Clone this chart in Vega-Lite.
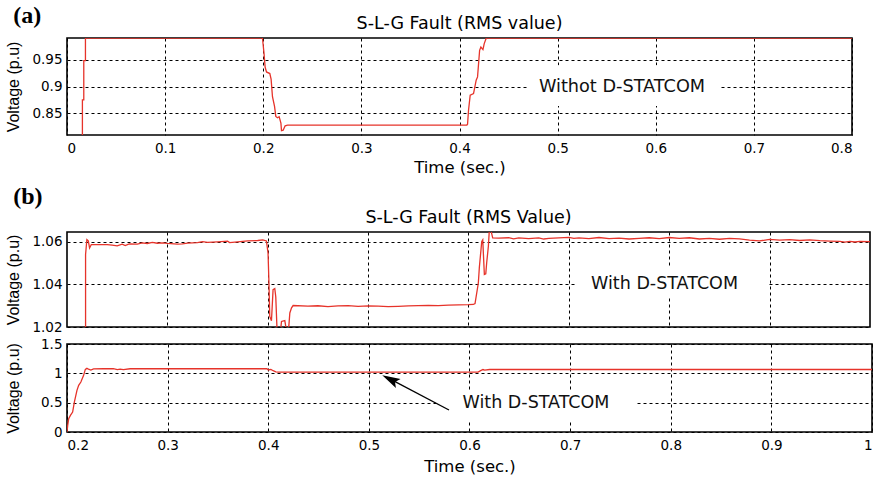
{
  "$schema": "https://vega.github.io/schema/vega-lite/v6.json",
  "background": "white",
  "padding": {"left": 4, "top": 3, "right": 2, "bottom": 2},
  "config": {
    "view": {"stroke": "black", "strokeWidth": 1.6},
    "axis": {
      "grid": true, "gridColor": "black", "gridDash": [3, 3], "gridWidth": 1, "gridOpacity": 1,
      "domain": false, "ticks": false, "tickSize": 0,
      "labelFont": "DejaVu Sans", "labelFontSize": 13.5, "labelColor": "black",
      "titleFont": "Liberation Sans", "titleFontSize": 16, "titleFontWeight": "normal", "titleColor": "black"
    },
    "axisX": {"titleFont": "DejaVu Sans", "titleFontSize": 16.5},
    "title": {"font": "DejaVu Sans", "fontSize": 17.5, "fontWeight": "normal", "color": "black"}
  },
  "concat": [
    {
      "title": {"text": "(a)", "anchor": "start", "frame": "bounds", "font": "Liberation Serif", "fontWeight": "bold", "fontSize": 24, "offset": -14, "dx": 9},
      "concat": [
        {
          "width": 785, "height": 97,
          "title": {"text": "S-L-G Fault (RMS value)", "frame": "group", "anchor": "middle", "offset": 6},
          "encoding": {
            "x": {"field": "t", "type": "quantitative", "scale": {"domain": [0, 0.8], "nice": false},
                  "axis": {"title": "Time (sec.)", "values": [0, 0.1, 0.2, 0.3, 0.4, 0.5, 0.6, 0.7, 0.8], "format": "~g", "labelPadding": 6, "titlePadding": 5}},
            "y": {"field": "v", "type": "quantitative", "scale": {"domain": [0.81, 0.99], "nice": false, "zero": false},
                  "axis": {"title": "Voltage (p.u)", "values": [0.85, 0.9, 0.95], "format": "~g", "labelPadding": 5, "minExtent": 35, "maxExtent": 35, "titlePadding": 11}}
          },
          "layer": [
            {
              "data": {"values": [
                {"t": 0.0157, "v": 0.80}, {"t": 0.0157, "v": 0.875}, {"t": 0.0171, "v": 0.875}, {"t": 0.0171, "v": 0.948},
                {"t": 0.0188, "v": 0.948}, {"t": 0.0188, "v": 0.99}, {"t": 0.1992, "v": 0.99}, {"t": 0.2008, "v": 0.961},
                {"t": 0.2019, "v": 0.936}, {"t": 0.2033, "v": 0.927}, {"t": 0.2067, "v": 0.924}, {"t": 0.208, "v": 0.9137},
                {"t": 0.2094, "v": 0.881}, {"t": 0.2115, "v": 0.863}, {"t": 0.2128, "v": 0.8445}, {"t": 0.2145, "v": 0.842},
                {"t": 0.2162, "v": 0.844}, {"t": 0.218, "v": 0.832}, {"t": 0.2186, "v": 0.818}, {"t": 0.2203, "v": 0.819},
                {"t": 0.2223, "v": 0.827}, {"t": 0.2248, "v": 0.8285}, {"t": 0.4075, "v": 0.8285}, {"t": 0.4082, "v": 0.83},
                {"t": 0.4092, "v": 0.856}, {"t": 0.4109, "v": 0.8839}, {"t": 0.4143, "v": 0.887}, {"t": 0.417, "v": 0.9117},
                {"t": 0.4184, "v": 0.9178}, {"t": 0.4205, "v": 0.9672}, {"t": 0.4218, "v": 0.9733}, {"t": 0.4239, "v": 0.9685},
                {"t": 0.4252, "v": 0.9796}, {"t": 0.4273, "v": 0.99}, {"t": 0.8, "v": 0.99}
              ]},
              "mark": {"type": "line", "color": "#e6332a", "strokeWidth": 1.3, "clip": true}
            },
            {
              "data": {"values": [{"t": 0.4688, "t2": 0.6665, "v": 0.864, "v2": 0.9395}]},
              "mark": {"type": "rect", "fill": "white"},
              "encoding": {"x2": {"field": "t2"}, "y2": {"field": "v2"}}
            },
            {
              "data": {"values": [{"t": 0.5656, "v": 0.9, "label": "Withot D-STATCOM"}]},
              "mark": {"type": "text", "font": "DejaVu Sans", "fontSize": 17.7, "color": "#111", "baseline": "middle", "align": "center"},
              "encoding": {"text": {"field": "label"}}
            }
          ]
        }
      ],
      "columns": 1, "align": "none"
    },
    {
      "title": {"text": "(b)", "anchor": "start", "frame": "bounds", "font": "Liberation Serif", "fontWeight": "bold", "fontSize": 24, "offset": -1.5, "dx": 9},
      "concat": [
        {
          "width": 803, "height": 95,
          "title": {"text": "S-L-G Fault (RMS Value)", "frame": "group", "anchor": "middle", "offset": 6},
          "encoding": {
            "x": {"field": "t", "type": "quantitative", "scale": {"domain": [0.2, 1.0], "nice": false},
                  "axis": {"title": null, "labels": false, "values": [0.3, 0.4, 0.5, 0.6, 0.7, 0.8, 0.9]}},
            "y": {"field": "v", "type": "quantitative", "scale": {"domain": [1.02, 1.0647], "nice": false, "zero": false},
                  "axis": {"title": "Voltage (p.u)", "values": [1.02, 1.04, 1.06], "format": "~g", "labelPadding": 5, "minExtent": 35, "maxExtent": 35, "titlePadding": 11}}
          },
          "layer": [
            {
              "data": {"values": [
                {"t": 0.2185, "v": 1.0}, {"t": 0.2185, "v": 1.0541}, {"t": 0.2198, "v": 1.0611}, {"t": 0.2212, "v": 1.0605},
                {"t": 0.2225, "v": 1.0572}, {"t": 0.2242, "v": 1.0588}, {"t": 0.23, "v": 1.0588}, {"t": 0.24, "v": 1.0588},
                {"t": 0.245, "v": 1.0585}, {"t": 0.25, "v": 1.0582}, {"t": 0.255, "v": 1.059}, {"t": 0.258, "v": 1.0583},
                {"t": 0.262, "v": 1.0591}, {"t": 0.27, "v": 1.059}, {"t": 0.275, "v": 1.0596}, {"t": 0.28, "v": 1.0593},
                {"t": 0.285, "v": 1.0598}, {"t": 0.29, "v": 1.0594}, {"t": 0.295, "v": 1.0596}, {"t": 0.3, "v": 1.0593},
                {"t": 0.31, "v": 1.059}, {"t": 0.315, "v": 1.0591}, {"t": 0.32, "v": 1.0595}, {"t": 0.33, "v": 1.0597},
                {"t": 0.335, "v": 1.0602}, {"t": 0.34, "v": 1.0598}, {"t": 0.35, "v": 1.0601}, {"t": 0.36, "v": 1.0604},
                {"t": 0.362, "v": 1.0597}, {"t": 0.37, "v": 1.0601}, {"t": 0.38, "v": 1.0605}, {"t": 0.39, "v": 1.0607},
                {"t": 0.395, "v": 1.061}, {"t": 0.3987, "v": 1.0605}, {"t": 0.4003, "v": 1.0548}, {"t": 0.4012, "v": 1.0407},
                {"t": 0.402, "v": 1.025}, {"t": 0.4037, "v": 1.0229}, {"t": 0.4053, "v": 1.0376}, {"t": 0.407, "v": 1.0381},
                {"t": 0.408, "v": 1.0341}, {"t": 0.4093, "v": 1.018}, {"t": 0.412, "v": 1.015}, {"t": 0.4137, "v": 1.0226},
                {"t": 0.417, "v": 1.023}, {"t": 0.4187, "v": 1.018}, {"t": 0.4203, "v": 1.016}, {"t": 0.422, "v": 1.0266},
                {"t": 0.4237, "v": 1.029}, {"t": 0.4253, "v": 1.0301}, {"t": 0.44, "v": 1.0298}, {"t": 0.45, "v": 1.03},
                {"t": 0.46, "v": 1.0296}, {"t": 0.47, "v": 1.0299}, {"t": 0.48, "v": 1.0301}, {"t": 0.49, "v": 1.0297},
                {"t": 0.5, "v": 1.0299}, {"t": 0.51, "v": 1.0298}, {"t": 0.52, "v": 1.0296}, {"t": 0.53, "v": 1.0297},
                {"t": 0.54, "v": 1.0299}, {"t": 0.55, "v": 1.0301}, {"t": 0.56, "v": 1.0302}, {"t": 0.57, "v": 1.0301},
                {"t": 0.58, "v": 1.0303}, {"t": 0.59, "v": 1.0304}, {"t": 0.6, "v": 1.0305}, {"t": 0.6048, "v": 1.0306},
                {"t": 0.6065, "v": 1.031}, {"t": 0.6098, "v": 1.0407}, {"t": 0.6108, "v": 1.048}, {"t": 0.6132, "v": 1.0603},
                {"t": 0.6142, "v": 1.061}, {"t": 0.6148, "v": 1.0548}, {"t": 0.6158, "v": 1.0447}, {"t": 0.6172, "v": 1.045},
                {"t": 0.6181, "v": 1.0501}, {"t": 0.6198, "v": 1.058}, {"t": 0.6208, "v": 1.066}, {"t": 0.6221, "v": 1.066},
                {"t": 0.6241, "v": 1.0619}, {"t": 0.63, "v": 1.0618}, {"t": 0.64, "v": 1.062}, {"t": 0.645, "v": 1.0615},
                {"t": 0.65, "v": 1.0619}, {"t": 0.66, "v": 1.0616}, {"t": 0.67, "v": 1.0619}, {"t": 0.675, "v": 1.0614},
                {"t": 0.68, "v": 1.0617}, {"t": 0.69, "v": 1.0619}, {"t": 0.7, "v": 1.0622}, {"t": 0.705, "v": 1.0617},
                {"t": 0.71, "v": 1.0619}, {"t": 0.72, "v": 1.0616}, {"t": 0.73, "v": 1.0621}, {"t": 0.74, "v": 1.0616},
                {"t": 0.75, "v": 1.0618}, {"t": 0.76, "v": 1.0614}, {"t": 0.77, "v": 1.0617}, {"t": 0.78, "v": 1.062},
                {"t": 0.79, "v": 1.0616}, {"t": 0.8, "v": 1.0621}, {"t": 0.81, "v": 1.0617}, {"t": 0.82, "v": 1.062},
                {"t": 0.83, "v": 1.0614}, {"t": 0.84, "v": 1.0617}, {"t": 0.85, "v": 1.0613}, {"t": 0.86, "v": 1.0617},
                {"t": 0.87, "v": 1.0615}, {"t": 0.88, "v": 1.0609}, {"t": 0.89, "v": 1.0605}, {"t": 0.9, "v": 1.0612},
                {"t": 0.91, "v": 1.0609}, {"t": 0.92, "v": 1.0611}, {"t": 0.93, "v": 1.0607}, {"t": 0.94, "v": 1.061},
                {"t": 0.95, "v": 1.0606}, {"t": 0.96, "v": 1.0604}, {"t": 0.97, "v": 1.0603}, {"t": 0.975, "v": 1.0599},
                {"t": 0.98, "v": 1.0603}, {"t": 0.985, "v": 1.06}, {"t": 0.99, "v": 1.0603}, {"t": 1.0, "v": 1.0602}
              ]},
              "mark": {"type": "line", "color": "#e6332a", "strokeWidth": 1.3, "clip": true}
            },
            {
              "data": {"values": [{"t": 0.7081, "t2": 0.8974, "v": 1.0342, "v2": 1.0483}]},
              "mark": {"type": "rect", "fill": "white"},
              "encoding": {"x2": {"field": "t2"}, "y2": {"field": "v2"}}
            },
            {
              "data": {"values": [{"t": 0.7953, "v": 1.04, "label": "With D-STATCOM"}]},
              "mark": {"type": "text", "font": "DejaVu Sans", "fontSize": 17.5, "color": "#111", "baseline": "middle", "align": "center"},
              "encoding": {"text": {"field": "label"}}
            }
          ]
        },
        {
          "width": 805, "height": 88,
          "encoding": {
            "x": {"field": "t", "type": "quantitative", "scale": {"domain": [0.2, 1.0], "nice": false},
                  "axis": {"title": "Time (sec.)", "values": [0.2, 0.3, 0.4, 0.5, 0.6, 0.7, 0.8, 0.9, 1.0], "format": "~g", "labelPadding": 6, "titlePadding": 7}},
            "y": {"field": "v", "type": "quantitative", "scale": {"domain": [0, 1.5], "nice": false},
                  "axis": {"title": "Voltage (p.u)", "values": [0, 0.5, 1, 1.5], "format": "~g", "labelPadding": 5, "minExtent": 35, "maxExtent": 35, "titlePadding": 11}}
          },
          "layer": [
            {
              "data": {"values": [
                {"t": 0.2, "v": 0}, {"t": 0.2007, "v": 0.114}, {"t": 0.2017, "v": 0.227}, {"t": 0.2034, "v": 0.284},
                {"t": 0.2056, "v": 0.341}, {"t": 0.2073, "v": 0.51}, {"t": 0.2099, "v": 0.71}, {"t": 0.2116, "v": 0.796},
                {"t": 0.2138, "v": 0.852}, {"t": 0.2165, "v": 0.966}, {"t": 0.2182, "v": 1.068}, {"t": 0.2198, "v": 1.085},
                {"t": 0.2214, "v": 1.07}, {"t": 0.2237, "v": 1.055}, {"t": 0.2264, "v": 1.075}, {"t": 0.236, "v": 1.078},
                {"t": 0.246, "v": 1.08}, {"t": 0.25, "v": 1.062}, {"t": 0.2528, "v": 1.07}, {"t": 0.2561, "v": 1.062},
                {"t": 0.2627, "v": 1.078}, {"t": 0.3, "v": 1.078}, {"t": 0.35, "v": 1.078}, {"t": 0.3987, "v": 1.078},
                {"t": 0.4, "v": 1.058}, {"t": 0.4026, "v": 1.068}, {"t": 0.4049, "v": 1.045}, {"t": 0.4075, "v": 1.025},
                {"t": 0.41, "v": 1.02}, {"t": 0.6085, "v": 1.02}, {"t": 0.6111, "v": 1.045}, {"t": 0.6134, "v": 1.065},
                {"t": 0.615, "v": 1.055}, {"t": 0.62, "v": 1.065}, {"t": 1.0, "v": 1.065}
              ]},
              "mark": {"type": "line", "color": "#e6332a", "strokeWidth": 1.3, "clip": true}
            },
            {
              "data": {"values": [{"t": 0.5697, "t2": 0.7665, "v": 0.2, "v2": 0.68}]},
              "mark": {"type": "rect", "fill": "white"},
              "encoding": {"x2": {"field": "t2"}, "y2": {"field": "v2"}}
            },
            {
              "data": {"values": [{"t": 0.6661, "v": 0.5, "label": "With D-STATCOM"}]},
              "mark": {"type": "text", "font": "DejaVu Sans", "fontSize": 17.5, "color": "#111", "baseline": "middle", "align": "center"},
              "encoding": {"text": {"field": "label"}}
            },
            {
              "data": {"values": [{"t": 0.5796, "v": 0.375, "t2": 0.518, "v2": 0.93}]},
              "mark": {"type": "rule", "color": "black", "strokeWidth": 1.4},
              "encoding": {"x2": {"field": "t2"}, "y2": {"field": "v2"}}
            },
            {
              "data": {"values": [{"t": 0.5133, "v": 0.967}]},
              "mark": {"type": "point", "shape": "M0,0L-0.28,1L0,0.8L0.28,1Z", "filled": true, "color": "black", "opacity": 1, "size": 1296, "angle": 297.5}
            }
          ]
        }
      ],
      "columns": 1, "align": "none", "spacing": 1
    }
  ],
  "columns": 1, "align": "none", "spacing": 8
}
